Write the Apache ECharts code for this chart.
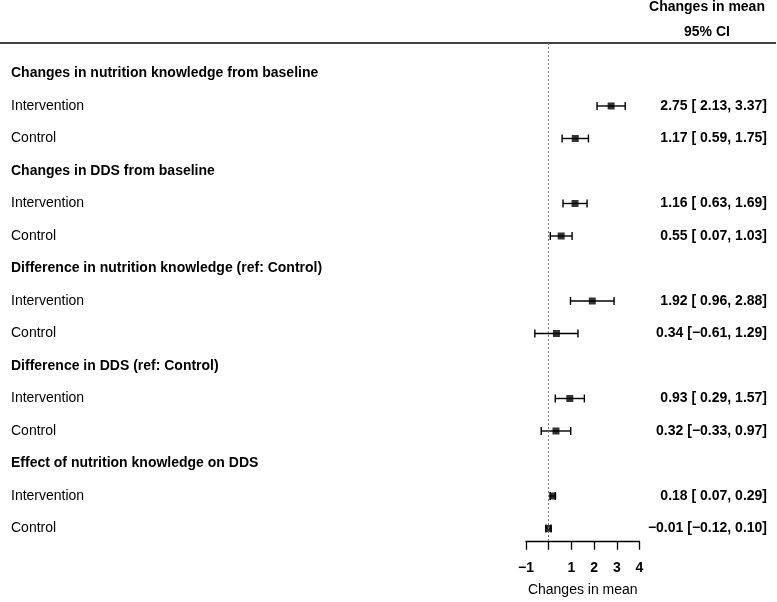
<!DOCTYPE html>
<html><head><meta charset="utf-8">
<script src="https://cdn.jsdelivr.net/npm/echarts@6/dist/echarts.min.js"></script>
<style>html,body{margin:0;padding:0;background:#fff}#c{width:777px;height:602px}</style>
</head><body><div id="c"></div>
<script>
const rowLabels = [
  "Changes in nutrition knowledge from baseline", "Intervention", "Control",
  "Changes in DDS from baseline", "Intervention", "Control",
  "Difference in nutrition knowledge (ref: Control)", "Intervention", "Control",
  "Difference in DDS (ref: Control)", "Intervention", "Control",
  "Effect of nutrition knowledge on DDS", "Intervention", "Control"
];
const isHeader = [true,false,false,true,false,false,true,false,false,true,false,false,true,false,false];
const estimates = [null, 2.75, 1.17, null, 1.16, 0.55, null, 1.92, 0.34, null, 0.93, 0.32, null, 0.18, -0.01];
const lowerCI   = [null, 2.13, 0.59, null, 0.63, 0.07, null, 0.96, -0.61, null, 0.29, -0.33, null, 0.07, -0.12];
const upperCI   = [null, 3.37, 1.75, null, 1.69, 1.03, null, 2.88, 1.29, null, 1.57, 0.97, null, 0.29, 0.10];
const xTickLabels = {"-1": "\u22121", "0": "", "1": "1", "2": "2", "3": "3", "4": "4"};
const axisTitle = "Changes in mean";
const colHeader1 = "Changes in mean";
const colHeader2 = "95% CI";

const FONT = "'Liberation Sans', Arial, Helvetica, sans-serif";
function fmt(v){ return (v < 0 ? "\u2212" : "") + Math.abs(v).toFixed(2); }
function ciText(i){
  const lo = lowerCI[i];
  return fmt(estimates[i]) + " [" + (lo < 0 ? "" : " ") + fmt(lo) + ", " + fmt(upperCI[i]) + "]";
}

const labelData = rowLabels.map((l, i) => [0, i]);
const ciData = [];
const pointData = [];
estimates.forEach((e, i) => {
  if (e === null) return;
  ciData.push([lowerCI[i], upperCI[i], i]);
  pointData.push([e, i]);
});

const chart = echarts.init(document.getElementById('c'), null, {renderer: 'canvas'});
chart.setOption({
  animation: false,
  backgroundColor: '#fff',
  grid: {left: 526, width: 113.5, top: 43, bottom: 60.3, containLabel: false},
  xAxis: {
    type: 'value', min: -1, max: 4, interval: 1, position: 'bottom',
    splitLine: {show: false},
    axisLine: {show: true, onZero: false, lineStyle: {color: '#000', width: 1.3}},
    axisTick: {show: true, length: 8, lineStyle: {color: '#000', width: 1.3}},
    axisLabel: {
      margin: 19, color: '#000', fontSize: 14, fontWeight: 'bold', fontFamily: FONT,
      formatter: v => xTickLabels[String(v)] !== undefined ? xTickLabels[String(v)] : String(v)
    },
    name: axisTitle, nameLocation: 'middle', nameGap: 41,
    nameTextStyle: {color: '#000', fontSize: 14, fontFamily: FONT}
  },
  yAxis: {
    type: 'value', inverse: true, min: -0.938, max: 14.406,
    show: false, splitLine: {show: false}
  },
  graphic: [
    {type: 'line', shape: {x1: 0, y1: 43, x2: 776, y2: 43}, style: {stroke: '#000', lineWidth: 1.5}, silent: true},
    {type: 'text', x: 707, y: 7, style: {text: colHeader1, fill: '#000', font: 'bold 14px ' + FONT, textAlign: 'center', textVerticalAlign: 'middle'}},
    {type: 'text', x: 707, y: 32, style: {text: colHeader2, fill: '#000', font: 'bold 14px ' + FONT, textAlign: 'center', textVerticalAlign: 'middle'}}
  ],
  series: [
    {
      type: 'custom', name: 'labels', clip: false, silent: true,
      data: labelData,
      renderItem: function(params, api){
        const i = api.value(1);
        const y = api.coord([0, i])[1];
        const children = [{
          type: 'text', x: 11, y: y,
          style: {text: rowLabels[i], fill: '#000', font: (isHeader[i] ? 'bold ' : '') + '14px ' + FONT, textAlign: 'left', textVerticalAlign: 'middle'}
        }];
        if (estimates[i] !== null) {
          children.push({
            type: 'text', x: 767, y: y,
            style: {text: ciText(i), fill: '#000', font: 'bold 14px ' + FONT, textAlign: 'right', textVerticalAlign: 'middle'}
          });
        }
        return {type: 'group', children: children};
      }
    },
    {
      type: 'custom', name: 'ci', clip: false, silent: true,
      data: ciData,
      renderItem: function(params, api){
        const p1 = api.coord([api.value(0), api.value(2)]);
        const p2 = api.coord([api.value(1), api.value(2)]);
        const h = 4;
        const st = {stroke: '#000', lineWidth: 1.4};
        return {type: 'group', children: [
          {type: 'line', shape: {x1: p1[0], y1: p1[1], x2: p2[0], y2: p2[1]}, style: st},
          {type: 'line', shape: {x1: p1[0], y1: p1[1] - h, x2: p1[0], y2: p1[1] + h}, style: st},
          {type: 'line', shape: {x1: p2[0], y1: p2[1] - h, x2: p2[0], y2: p2[1] + h}, style: st}
        ]};
      }
    },
    {
      type: 'scatter', name: 'estimate', silent: true,
      symbol: 'rect', symbolSize: 7,
      itemStyle: {color: '#000'},
      data: pointData,
      z: 3,
      markLine: {
        silent: true, symbol: 'none', label: {show: false},
        lineStyle: {color: '#777', type: [2, 2], width: 1},
        data: [{xAxis: 0}]
      }
    }
  ]
});
</script>
</body></html>
